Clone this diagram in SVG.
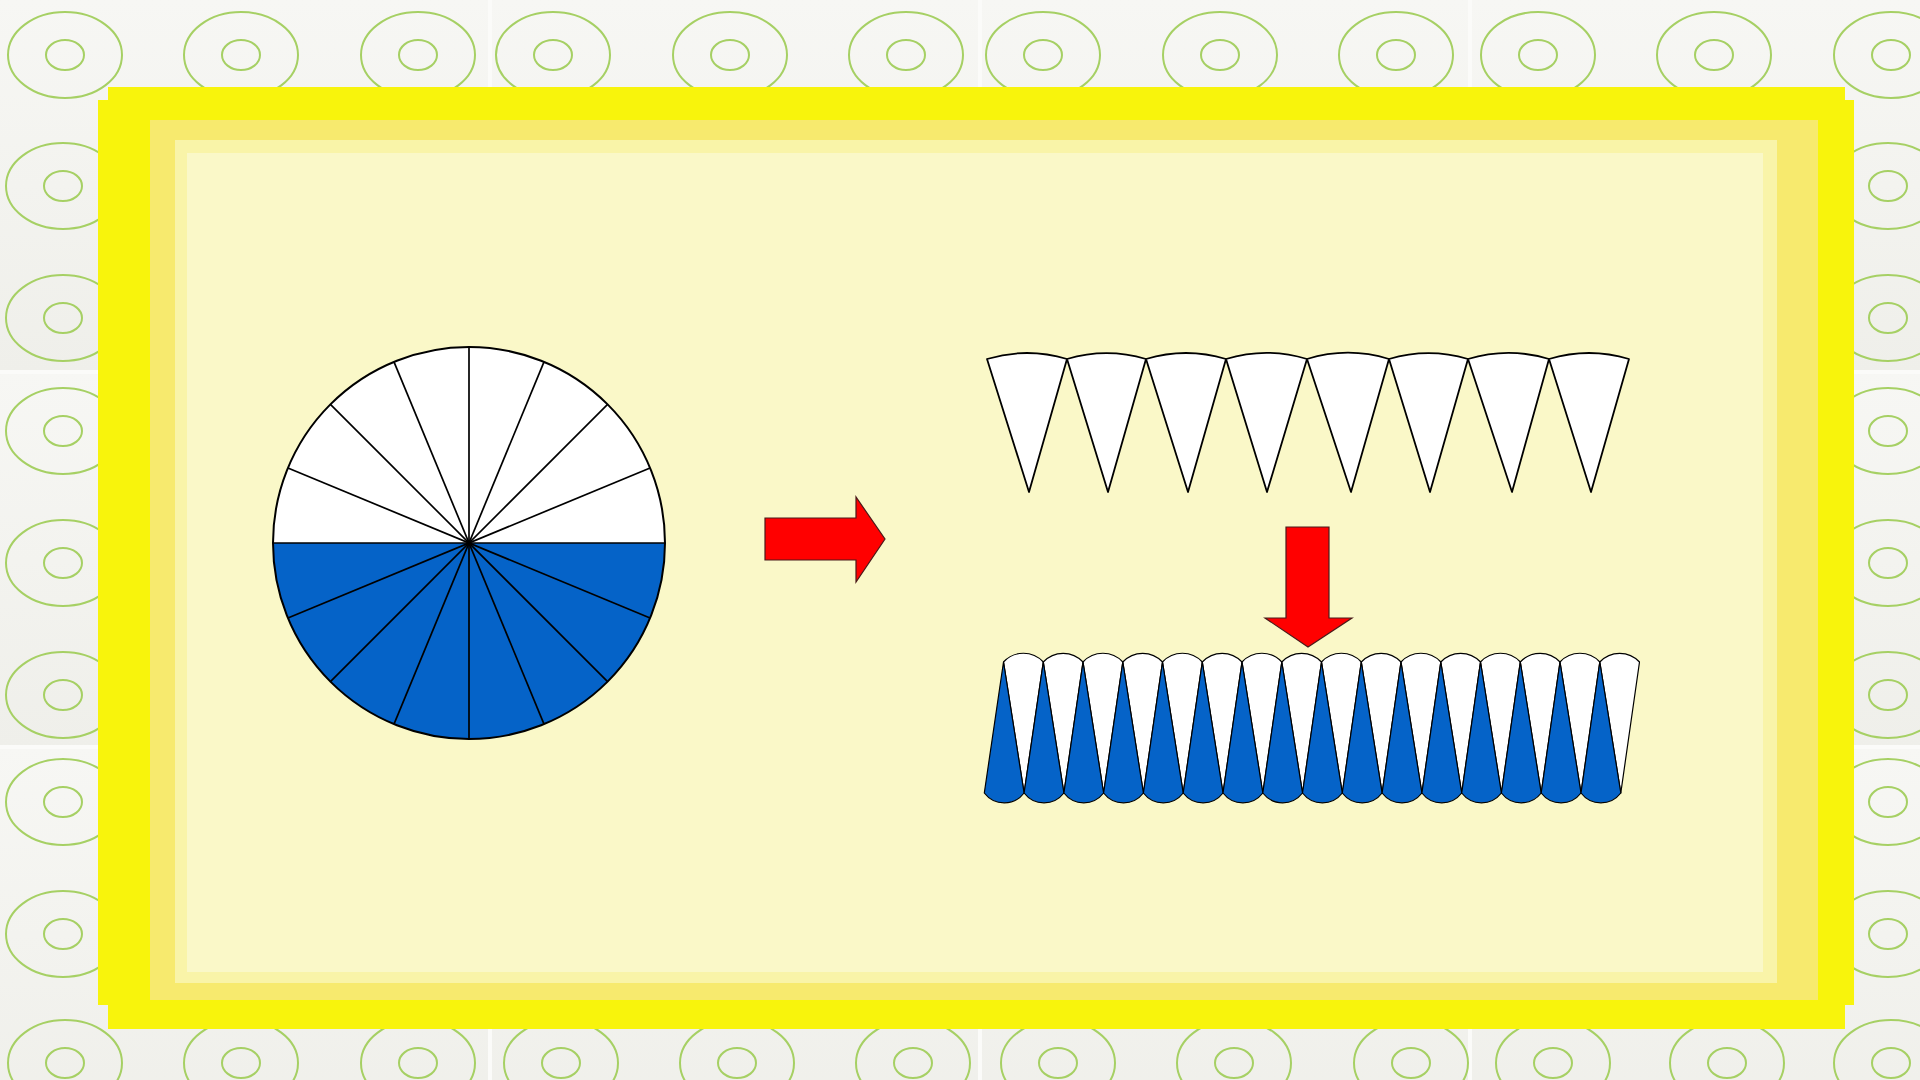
<svg xmlns="http://www.w3.org/2000/svg" xmlns:xlink="http://www.w3.org/1999/xlink" width="1920" height="1080" viewBox="0 0 1920 1080">
<style>
.ring ellipse{fill:none;stroke:#a6d064;stroke-width:2}
.tile{fill:url(#tileGrad)}
.seam{stroke:#fbfbf9;stroke-width:4}
.sec{stroke:#000;stroke-width:1.8;stroke-linejoin:round}
.strip{stroke:#000;stroke-width:1.2;stroke-linejoin:round}
.w{fill:#ffffff}
.b{fill:#0563c8}
.arrow{fill:#ff0000;stroke:#4a1a1a;stroke-width:1.2}
</style>
<defs>
<linearGradient id="tileGrad" x1="0" y1="0" x2="0" y2="1">
<stop offset="0" stop-color="#f7f7f4"/>
<stop offset="1" stop-color="#efefea"/>
</linearGradient>
<g id="ring" class="ring"><ellipse cx="0" cy="0" rx="57" ry="43"/><ellipse cx="0" cy="0" rx="19" ry="15"/></g>
</defs>
<g id="background">
<rect x="0" y="0" width="1920" height="1080" fill="#f4f4ef"/>
<rect class="tile" x="0" y="0" width="1920" height="372"/>
<rect class="tile" x="0" y="372" width="1920" height="375"/>
<rect class="tile" x="0" y="747" width="1920" height="375"/>
<line class="seam" x1="490" y1="0" x2="490" y2="1080"/>
<line class="seam" x1="980" y1="0" x2="980" y2="1080"/>
<line class="seam" x1="1470" y1="0" x2="1470" y2="1080"/>
<line class="seam" x1="0" y1="372" x2="1920" y2="372"/>
<line class="seam" x1="0" y1="747" x2="1920" y2="747"/>
<g>
<use href="#ring" x="65" y="55"/><use href="#ring" x="241" y="55"/><use href="#ring" x="418" y="55"/><use href="#ring" x="553" y="55"/><use href="#ring" x="730" y="55"/><use href="#ring" x="906" y="55"/><use href="#ring" x="1043" y="55"/><use href="#ring" x="1220" y="55"/><use href="#ring" x="1396" y="55"/><use href="#ring" x="1538" y="55"/><use href="#ring" x="1714" y="55"/><use href="#ring" x="1891" y="55"/>
<use href="#ring" x="65" y="1063"/><use href="#ring" x="241" y="1063"/><use href="#ring" x="418" y="1063"/><use href="#ring" x="561" y="1063"/><use href="#ring" x="737" y="1063"/><use href="#ring" x="913" y="1063"/><use href="#ring" x="1058" y="1063"/><use href="#ring" x="1234" y="1063"/><use href="#ring" x="1411" y="1063"/><use href="#ring" x="1553" y="1063"/><use href="#ring" x="1727" y="1063"/><use href="#ring" x="1891" y="1063"/>
<use href="#ring" x="63" y="186"/><use href="#ring" x="63" y="318"/><use href="#ring" x="63" y="431"/><use href="#ring" x="63" y="563"/><use href="#ring" x="63" y="695"/><use href="#ring" x="63" y="802"/><use href="#ring" x="63" y="934"/>
<use href="#ring" x="1888" y="186"/><use href="#ring" x="1888" y="318"/><use href="#ring" x="1888" y="431"/><use href="#ring" x="1888" y="563"/><use href="#ring" x="1888" y="695"/><use href="#ring" x="1888" y="802"/><use href="#ring" x="1888" y="934"/>
</g>
</g>
<g id="frame">
<rect x="108" y="87" width="1737" height="942" fill="#f8f40c"/>
<rect x="98" y="100" width="1756" height="905" fill="#f8f40c"/>
<rect x="150" y="120" width="1668" height="880" fill="#f7ea6e"/>
<rect x="175" y="140" width="1602" height="843" fill="#f9f4a8"/>
<rect x="187" y="153" width="1576" height="819" fill="#faf8c8"/>
</g>
<g id="circle">
<path class="w" d="M273,543 A196 196 0 0 1 665,543 Z"/>
<path class="b" d="M665,543 A196 196 0 0 1 273,543 Z"/>
<g stroke="#000" stroke-width="1.7">
<line x1="273" y1="543" x2="665" y2="543"/>
<line x1="650.08" y1="618.01" x2="287.92" y2="467.99"/>
<line x1="607.59" y1="681.59" x2="330.41" y2="404.41"/>
<line x1="544.01" y1="724.08" x2="393.99" y2="361.92"/>
<line x1="469" y1="739" x2="469" y2="347"/>
<line x1="393.99" y1="724.08" x2="544.01" y2="361.92"/>
<line x1="330.41" y1="681.59" x2="607.59" y2="404.41"/>
<line x1="287.92" y1="618.01" x2="650.08" y2="467.99"/>
</g>
<circle cx="469" cy="543" r="196" fill="none" stroke="#000" stroke-width="2"/>
</g>
<g id="top-sectors" class="sec w">
<path d="M1029,492 L987,359 A139 139 0 0 1 1067,359 Z"/>
<path d="M1108,492 L1067,359 A139 139 0 0 1 1146,359 Z"/>
<path d="M1188,492 L1146,359 A139 139 0 0 1 1226,359 Z"/>
<path d="M1267,492 L1226,359 A139 139 0 0 1 1307,359 Z"/>
<path d="M1351,492 L1307,359 A139 139 0 0 1 1389,359 Z"/>
<path d="M1430,492 L1389,359 A139 139 0 0 1 1468,359 Z"/>
<path d="M1512,492 L1468,359 A139 139 0 0 1 1549,359 Z"/>
<path d="M1591,492 L1549,359 A139 139 0 0 1 1629,359 Z"/>
</g>
<g id="strip">
<g class="strip w">
<path d="M1024.1,793 L1003.5,662 A27 27 0 0 1 1043.3,662 Z"/>
<path d="M1063.9,793 L1043.3,662 A27 27 0 0 1 1083,662 Z"/>
<path d="M1103.6,793 L1083,662 A27 27 0 0 1 1122.8,662 Z"/>
<path d="M1143.4,793 L1122.8,662 A27 27 0 0 1 1162.5,662 Z"/>
<path d="M1183.2,793 L1162.5,662 A27 27 0 0 1 1202.3,662 Z"/>
<path d="M1223,793 L1202.3,662 A27 27 0 0 1 1242,662 Z"/>
<path d="M1262.8,793 L1242,662 A27 27 0 0 1 1281.8,662 Z"/>
<path d="M1302.5,793 L1281.8,662 A27 27 0 0 1 1321.5,662 Z"/>
<path d="M1342.3,793 L1321.5,662 A27 27 0 0 1 1361.3,662 Z"/>
<path d="M1382.1,793 L1361.3,662 A27 27 0 0 1 1401,662 Z"/>
<path d="M1421.9,793 L1401,662 A27 27 0 0 1 1440.8,662 Z"/>
<path d="M1461.7,793 L1440.8,662 A27 27 0 0 1 1480.5,662 Z"/>
<path d="M1501.4,793 L1480.5,662 A27 27 0 0 1 1520.3,662 Z"/>
<path d="M1541.2,793 L1520.3,662 A27 27 0 0 1 1560,662 Z"/>
<path d="M1581,793 L1560,662 A27 27 0 0 1 1599.8,662 Z"/>
<path d="M1620.8,793 L1599.8,662 A27 27 0 0 1 1639.5,662 Z"/>
</g>
<g class="strip b">
<path d="M1003.5,662 L1024.1,793 A25 25 0 0 1 984.3,793 Z"/>
<path d="M1043.3,662 L1063.9,793 A25 25 0 0 1 1024.1,793 Z"/>
<path d="M1083,662 L1103.6,793 A25 25 0 0 1 1063.9,793 Z"/>
<path d="M1122.8,662 L1143.4,793 A25 25 0 0 1 1103.6,793 Z"/>
<path d="M1162.5,662 L1183.2,793 A25 25 0 0 1 1143.4,793 Z"/>
<path d="M1202.3,662 L1223,793 A25 25 0 0 1 1183.2,793 Z"/>
<path d="M1242,662 L1262.8,793 A25 25 0 0 1 1223,793 Z"/>
<path d="M1281.8,662 L1302.5,793 A25 25 0 0 1 1262.8,793 Z"/>
<path d="M1321.5,662 L1342.3,793 A25 25 0 0 1 1302.5,793 Z"/>
<path d="M1361.3,662 L1382.1,793 A25 25 0 0 1 1342.3,793 Z"/>
<path d="M1401,662 L1421.9,793 A25 25 0 0 1 1382.1,793 Z"/>
<path d="M1440.8,662 L1461.7,793 A25 25 0 0 1 1421.9,793 Z"/>
<path d="M1480.5,662 L1501.4,793 A25 25 0 0 1 1461.7,793 Z"/>
<path d="M1520.3,662 L1541.2,793 A25 25 0 0 1 1501.4,793 Z"/>
<path d="M1560,662 L1581,793 A25 25 0 0 1 1541.2,793 Z"/>
<path d="M1599.8,662 L1620.8,793 A25 25 0 0 1 1581,793 Z"/>
</g>
</g>
<g id="arrows">
<polygon id="arrow-right" class="arrow" points="765,518 856,518 856,497 885,539 856,582 856,560 765,560"/>
<polygon id="arrow-down" class="arrow" points="1286,527 1329,527 1329,618 1352,618 1308,647 1265,618 1286,618"/>
</g>
</svg>
